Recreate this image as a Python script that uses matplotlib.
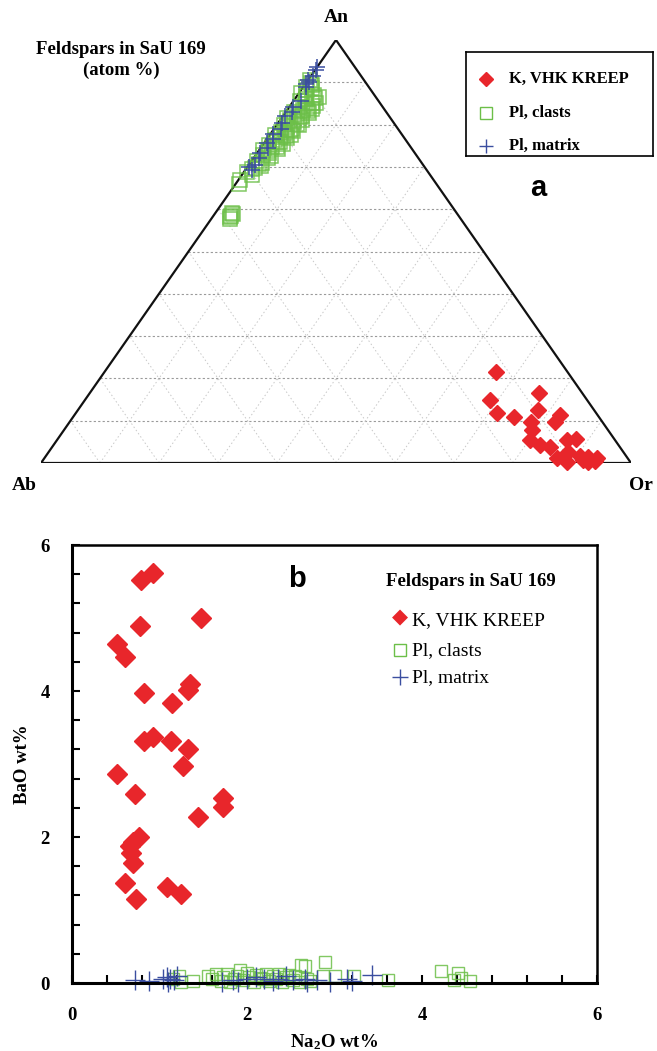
import numpy as np
import matplotlib
matplotlib.use("Agg")
from matplotlib import pyplot as plt

plt.rcParams['font.family'] = ['Liberation Serif', 'DejaVu Serif']
plt.rcParams['mathtext.fontset'] = 'custom'
plt.rcParams['mathtext.rm'] = 'Liberation Serif:bold'
plt.rcParams['mathtext.it'] = 'Liberation Serif:bold'
plt.rcParams['mathtext.bf'] = 'Liberation Serif:bold'

RED = '#e8262b'
GREEN = '#6cbf48'
BLUE = '#3b4ea0'

# ---- panel a: ternary An-Ab-Or (atom %) ----
kreep_an = [21.5, 14.9, 16.5, 11.8, 10.9, 12.5, 9.7, 7.8, 11.3, 9.7, 5.4, 4.3,
            3.8, 5.4, 5.7, 1.2, 0.2, 1.7, 1.4, 1.2, 0.3, 0.5, 2.5, 0.8]
kreep_or = [66.4, 68.6, 76.2, 71.4, 74.7, 78.0, 78.2, 79.3, 82.3, 82.3, 80.2, 82.4,
            84.4, 86.5, 87.8, 86.9, 89.1, 90.5, 92.0, 93.6, 92.5, 93.6, 88.0, 91.5]

clast_an = [90.5, 89.8, 89.0, 88.2, 87.5, 86.8, 86.0, 85.5, 84.8, 84.2, 83.5, 83.0,
            82.4, 81.8, 81.2, 80.6, 80.0, 79.4, 78.8, 78.2, 77.6, 77.0, 76.4, 75.8,
            75.2, 74.6, 74.0, 73.4, 72.8, 72.2, 71.5, 70.8, 70.2, 69.5, 68.8, 68.0,
            66.8, 66.0, 58.5, 58.8, 58.2, 57.6, 59.0,
            87.0, 86.2, 85.0, 84.0, 83.2, 82.0, 81.5, 80.2, 79.0, 78.0, 77.2, 76.0,
            74.8, 73.8, 72.5, 71.0, 69.8, 88.6, 89.4,
            86.5, 85.2, 84.4, 83.8, 82.8, 81.0, 79.8, 78.5, 77.5, 76.8, 75.5, 74.2]
clast_or = [0.3, 0.8, 0.5, 1.0, 0.4, 1.5, 2.0, 1.2, 2.4, 1.8, 2.6, 1.4,
            2.2, 3.0, 1.6, 2.5, 1.2, 2.0, 2.8, 1.5, 0.8, 2.2, 1.4, 2.6,
            1.0, 1.8, 0.6, 2.0, 1.2, 2.4, 0.8, 1.6, 2.2, 1.0, 0.6, 1.8,
            0.4, 0.5, 3.0, 3.2, 2.9, 3.3, 2.8,
            2.8, 3.3, 3.4, 3.1, 3.6, 3.2, 0.9, 3.3, 3.0, 2.4, 3.0, 2.0,
            2.6, 1.5, 2.7, 2.0, 1.4, 1.6, 1.3,
            3.8, 4.0, 3.9, 4.1, 4.0, 3.7, 3.8, 3.5, 3.6, 3.3, 3.2, 3.0]

matrix_an = [93.6, 92.8, 91.5, 90.5, 90.0, 89.5, 88.8, 84.2, 83.0, 82.0, 80.4,
             79.0, 77.8, 76.6, 75.7, 74.5, 73.2, 72.0, 70.4, 69.3, 70.0, 85.5]
matrix_or = [0.0, 0.2, 0.3, 0.0, 0.5, 0.2, 0.6, 0.6, 1.0, 0.4, 0.7,
             1.2, 0.5, 1.0, 0.5, 1.2, 0.6, 1.0, 1.0, 1.1, 0.2, 1.4]

# ---- panel b: BaO vs Na2O (wt%) ----
kreep_na2o = [0.93, 0.79, 1.47, 0.78, 0.51, 0.60, 0.82, 1.35, 1.33, 1.14, 0.82, 0.93,
              1.13, 1.33, 1.27, 0.51, 0.72, 1.73, 1.73, 1.44, 0.76, 0.70, 0.66, 0.67,
              0.70, 0.61, 1.08, 1.24, 0.73]
kreep_bao = [5.61, 5.52, 5.00, 4.89, 4.64, 4.47, 3.97, 4.10, 4.01, 3.84, 3.32, 3.37,
             3.32, 3.21, 2.97, 2.86, 2.59, 2.53, 2.41, 2.27, 2.00, 1.93, 1.88, 1.78,
             1.65, 1.37, 1.31, 1.22, 1.15]

clast_na2o = [1.15, 1.22, 1.38, 1.55, 1.60, 1.65, 1.70, 1.72, 1.77, 1.80, 1.85, 1.88,
              1.92, 1.95, 2.00, 2.02, 2.08, 2.10, 2.15, 2.18, 2.22, 2.25, 2.30, 2.33,
              2.37, 2.40, 2.45, 2.48, 2.53, 2.55, 2.60, 2.62, 2.66, 2.68, 2.72, 2.87,
              2.89, 3.00, 3.22, 3.61, 4.22, 4.36, 4.41, 4.45, 4.55, 1.25]
clast_bao = [0.06, 0.10, 0.03, 0.10, 0.05, 0.12, 0.03, 0.08, 0.12, 0.02, 0.06, 0.10,
             0.18, 0.04, 0.14, 0.08, 0.02, 0.11, 0.07, 0.05, 0.13, 0.03, 0.10, 0.06,
             0.12, 0.02, 0.08, 0.11, 0.04, 0.09, 0.02, 0.25, 0.23, 0.06, 0.03, 0.10,
             0.29, 0.10, 0.10, 0.04, 0.17, 0.04, 0.14, 0.07, 0.03, 0.02]

matrix_na2o = [0.72, 0.88, 1.04, 1.08, 1.10, 1.12, 1.16, 1.20, 1.71, 1.84, 2.00, 2.10,
               2.19, 2.30, 2.45, 2.53, 2.66, 2.68, 2.80, 2.95, 3.14, 3.20, 3.43, 1.90, 2.35]
matrix_bao = [0.04, 0.03, 0.05, 0.08, 0.02, 0.06, 0.04, 0.10, 0.02, 0.04, 0.06, 0.08,
              0.05, 0.03, 0.10, 0.04, 0.06, 0.02, 0.04, 0.02, 0.05, 0.03, 0.11, 0.02, 0.06]


def tern(an, orr):
    an = np.asarray(an) / 100.0
    orr = np.asarray(orr) / 100.0
    return orr + an / 2.0, an


W, H = 657, 1051
fig = plt.figure(figsize=(W / 100, H / 100), dpi=100)

# ternary axes: Ab at (41,463), Or at (631,463), An at (336,40) in pixels
axa = fig.add_axes([41 / W, 1 - 463 / H, 590 / W, 423 / H])
axa.set_xlim(0, 1)
axa.set_ylim(0, 1)
axa.axis('off')

for k in range(1, 11):
    f = k / 10.0
    # horizontal (const An)
    axa.plot([f / 2, 1 - f / 2], [f, f], color='#9a9a9a', ls=(0, (2, 2)), lw=0.8, zorder=1)
    if k < 10:
        # const Or (parallel to Ab-An edge)
        axa.plot([f, f + (1 - f) / 2], [0, 1 - f], color='#c8c8c8', ls=(0, (1.5, 2.5)), lw=0.7, zorder=1)
        # const Ab (parallel to Or-An edge)
        axa.plot([f, f / 2], [0, f], color='#c8c8c8', ls=(0, (1.5, 2.5)), lw=0.7, zorder=1)

axa.plot([0, 1, 0.5, 0], [0, 0, 1, 0], color='#111111', lw=1.6, zorder=2)

x, y = tern(clast_an, clast_or)
axa.plot(x, y, ls='none', marker='s', ms=9.5, mfc='none', mec=GREEN, mew=1.1, alpha=0.85, zorder=3)
x, y = tern(matrix_an, matrix_or)
axa.plot(x, y, ls='none', marker='+', ms=12, mec=BLUE, mew=1.1, zorder=4)
x, y = tern(kreep_an, kreep_or)
axa.plot(x, y, ls='none', marker='D', ms=8.5, mfc=RED, mec=RED, zorder=4, clip_on=False)

fig.text(336 / W, 1 - 17 / H, 'An', ha='center', va='center', fontsize=14, fontweight='bold')
fig.text(24 / W, 1 - 486 / H, 'Ab', ha='center', va='center', fontsize=14, fontweight='bold')
fig.text(641 / W, 1 - 486 / H, 'Or', ha='center', va='center', fontsize=14, fontweight='bold')
fig.text(121 / W, 1 - 60 / H, 'Feldspars in SaU 169\n(atom %)', ha='center', va='center',
         fontsize=13.5, fontweight='bold', linespacing=1.3)
fig.text(538 / W, 1 - 188 / H, 'a', ha='center', va='center', fontsize=21, fontweight='bold',
         family='Liberation Sans')

# legend box of panel a
leg = fig.add_axes([466 / W, 1 - 156 / H, 187 / W, 104 / H])
leg.set_xlim(0, 187)
leg.set_ylim(104, 0)
leg.set_xticks([])
leg.set_yticks([])
for s in leg.spines.values():
    s.set_linewidth(1.2)
leg.plot([20], [27], ls='none', marker='D', ms=7, mfc=RED, mec=RED)
leg.plot([20], [61], ls='none', marker='s', ms=8, mfc='none', mec=GREEN, mew=1.0)
leg.plot([20], [94], ls='none', marker='+', ms=10, mec=BLUE, mew=1.0)
leg.text(43, 27, 'K, VHK KREEP', va='center', fontsize=12, fontweight='bold')
leg.text(43, 61, 'Pl, clasts', va='center', fontsize=12, fontweight='bold')
leg.text(43, 94, 'Pl, matrix', va='center', fontsize=12, fontweight='bold')

# ---- panel b ----
axb = fig.add_axes([72 / W, 1 - 983 / H, 525 / W, 438 / H])
axb.plot(clast_na2o, clast_bao, ls='none', marker='s', ms=9, mfc='none', mec=GREEN, mew=1.0, alpha=0.85, clip_on=False)
axb.plot(matrix_na2o, matrix_bao, ls='none', marker='+', ms=14, mec=BLUE, mew=1.0, clip_on=False)
axb.plot(kreep_na2o, kreep_bao, ls='none', marker='D', ms=10, mfc=RED, mec=RED)
axb.set_xlim(0, 6)
axb.set_ylim(0, 6)
axb.set_xticks([0, 2, 4, 6])
axb.set_yticks([0, 2, 4, 6])
axb.set_xticks(np.arange(0, 6.01, 0.4), minor=True)
axb.set_yticks(np.arange(0, 6.01, 0.4), minor=True)
axb.tick_params(which='both', direction='in', length=6, width=1.5, labelsize=13.5)
axb.tick_params(axis='y', pad=16)
axb.tick_params(axis='x', pad=17)
for lab in axb.get_xticklabels() + axb.get_yticklabels():
    lab.set_fontweight('bold')
for s in axb.spines.values():
    s.set_linewidth(1.8)
axb.spines['left'].set_linewidth(2.2)
axb.spines['bottom'].set_linewidth(2.2)
axb.set_xlabel('Na$_2$O wt%', fontsize=13.5, fontweight='bold', labelpad=6)
axb.set_ylabel('BaO wt%', fontsize=13.5, fontweight='bold', labelpad=7)

fig.text(297 / W, 1 - 579 / H, 'b', ha='center', va='center', fontsize=21, fontweight='bold',
         family='Liberation Sans')
fig.text(386 / W, 1 - 582 / H, 'Feldspars in SaU 169', va='center', fontsize=13.5, fontweight='bold')
fig.text(400 / W, 1 - 617 / H, '\u25c6', ha='center', va='center', fontsize=15, color=RED,
         family='DejaVu Sans')
fig.lines.append(plt.Line2D([400 / W], [1 - 650 / H], transform=fig.transFigure, ls='none',
                            marker='s', ms=8, mfc='none', mec=GREEN, mew=1.0))
fig.lines.append(plt.Line2D([400 / W], [1 - 677 / H], transform=fig.transFigure, ls='none',
                            marker='+', ms=12, mec=BLUE, mew=1.0))
fig.text(412 / W, 1 - 621 / H, 'K, VHK KREEP', va='center', fontsize=14)
fig.text(412 / W, 1 - 651 / H, 'Pl, clasts', va='center', fontsize=14)
fig.text(412 / W, 1 - 678 / H, 'Pl, matrix', va='center', fontsize=14)

fig.savefig('out.png', dpi=100)
